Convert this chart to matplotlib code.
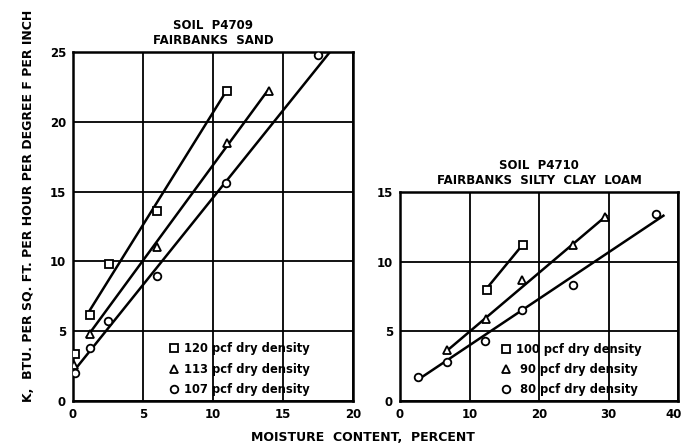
#Thermal conductivity vs moisture content for two Fairbanks soils

import matplotlib
matplotlib.use('Agg')
import matplotlib.pyplot as plt
import matplotlib.transforms as mtransforms

# Soil P4709 - Fairbanks sand
sand_labels = ['120 pcf dry density', '113 pcf dry density', '107 pcf dry density']
sand_x = [[0.15, 1.2, 2.6, 6.0, 11.0],
          [0.1, 1.2, 6.0, 11.0, 14.0],
          [0.15, 1.2, 2.5, 6.0, 10.9, 17.5]]
sand_k = [[3.35, 6.15, 9.8, 13.6, 22.2],
          [2.6, 4.8, 11.0, 18.5, 22.2],
          [2.0, 3.8, 5.75, 8.95, 15.6, 24.8]]
# fitted lines (start, end)
sand_fit_x = [[1.2, 10.95], [1.0, 13.95], [0.1, 18.35]]
sand_fit_k = [[6.5, 22.2], [4.6, 22.3], [2.2, 25.0]]

# Soil P4710 - Fairbanks silty clay loam
loam_labels = ['100 pcf dry density', ' 90 pcf dry density', ' 80 pcf dry density']
loam_x = [[12.5, 17.7],
          [6.7, 12.3, 17.5, 24.9, 29.5],
          [2.6, 6.7, 12.2, 17.5, 24.9, 36.8]]
loam_k = [[8.0, 11.2],
          [3.65, 5.9, 8.65, 11.2, 13.2],
          [1.7, 2.8, 4.3, 6.55, 8.35, 13.45]]
loam_fit_x = [[12.5, 17.7], [6.5, 29.7], [2.8, 37.9]]
loam_fit_k = [[8.1, 11.25], [3.5, 13.3], [1.6, 13.3]]

markers = ['s', '^', 'o']

plt.rcParams['font.family'] = 'DejaVu Sans'
plt.rcParams['font.weight'] = 'bold'

fig = plt.figure(figsize=(6.83, 4.46), dpi=100)
ax1 = fig.add_axes([0.1069, 0.1009, 0.41, 0.7825])
ax2 = fig.add_axes([0.5857, 0.1009, 0.407, 0.4686])


def draw(ax, xs, ks, fx, fk, labels, xmax, ymax, xstep, ystep, title, lx, ly):
    for i in range(3):
        ax.plot(fx[i], fk[i], color='black', lw=1.8, zorder=3)
        ax.plot(xs[i], ks[i], ls='none', marker=markers[i], ms=5.5,
                mfc='white', mec='black', mew=1.3, label=labels[i], zorder=4)
    ax.set_xlim(0, xmax)
    ax.set_ylim(0, ymax)
    ax.set_xticks(range(0, xmax + 1, xstep))
    ax.set_yticks(range(0, ymax + 1, ystep))
    ax.grid(True, color='black', lw=1.3)
    ax.tick_params(length=0, pad=5, labelsize=8.5)
    for s in ax.spines.values():
        s.set_linewidth(1.8)
    ax.set_title(title, fontsize=8.5, fontweight='bold', pad=6, linespacing=1.2)
    leg = ax.legend(loc='lower left', bbox_to_anchor=(lx, ly), frameon=False,
                    fontsize=8.3, handletextpad=0.4, labelspacing=0.62,
                    handlelength=1.0, borderpad=0.2)
    for h in leg.legend_handles:
        h.set_markersize(5.5)


draw(ax1, sand_x, sand_k, sand_fit_x, sand_fit_k, sand_labels, 20, 25, 5, 5,
     'SOIL  P4709\nFAIRBANKS  SAND', 0.31, -0.008)
draw(ax2, loam_x, loam_k, loam_fit_x, loam_fit_k, loam_labels, 40, 15, 10, 5,
     'SOIL  P4710\nFAIRBANKS  SILTY  CLAY  LOAM', 0.33, -0.015)

# keep the last tick label of the right plot inside the picture
last = ax2.get_xticklabels()[-1]
last.set_transform(last.get_transform() +
                   mtransforms.ScaledTranslation(-3 / 72, 0, fig.dpi_scale_trans))

fig.text(0.041, 0.538, 'K,  BTU. PER SQ. FT. PER HOUR PER DEGREE F PER INCH',
         rotation=90, ha='center', va='center', fontsize=9, fontweight='bold')
fig.text(0.531, 0.018, 'MOISTURE  CONTENT,  PERCENT', ha='center', va='center',
         fontsize=9, fontweight='bold')

plt.savefig('out.png', dpi=100)
